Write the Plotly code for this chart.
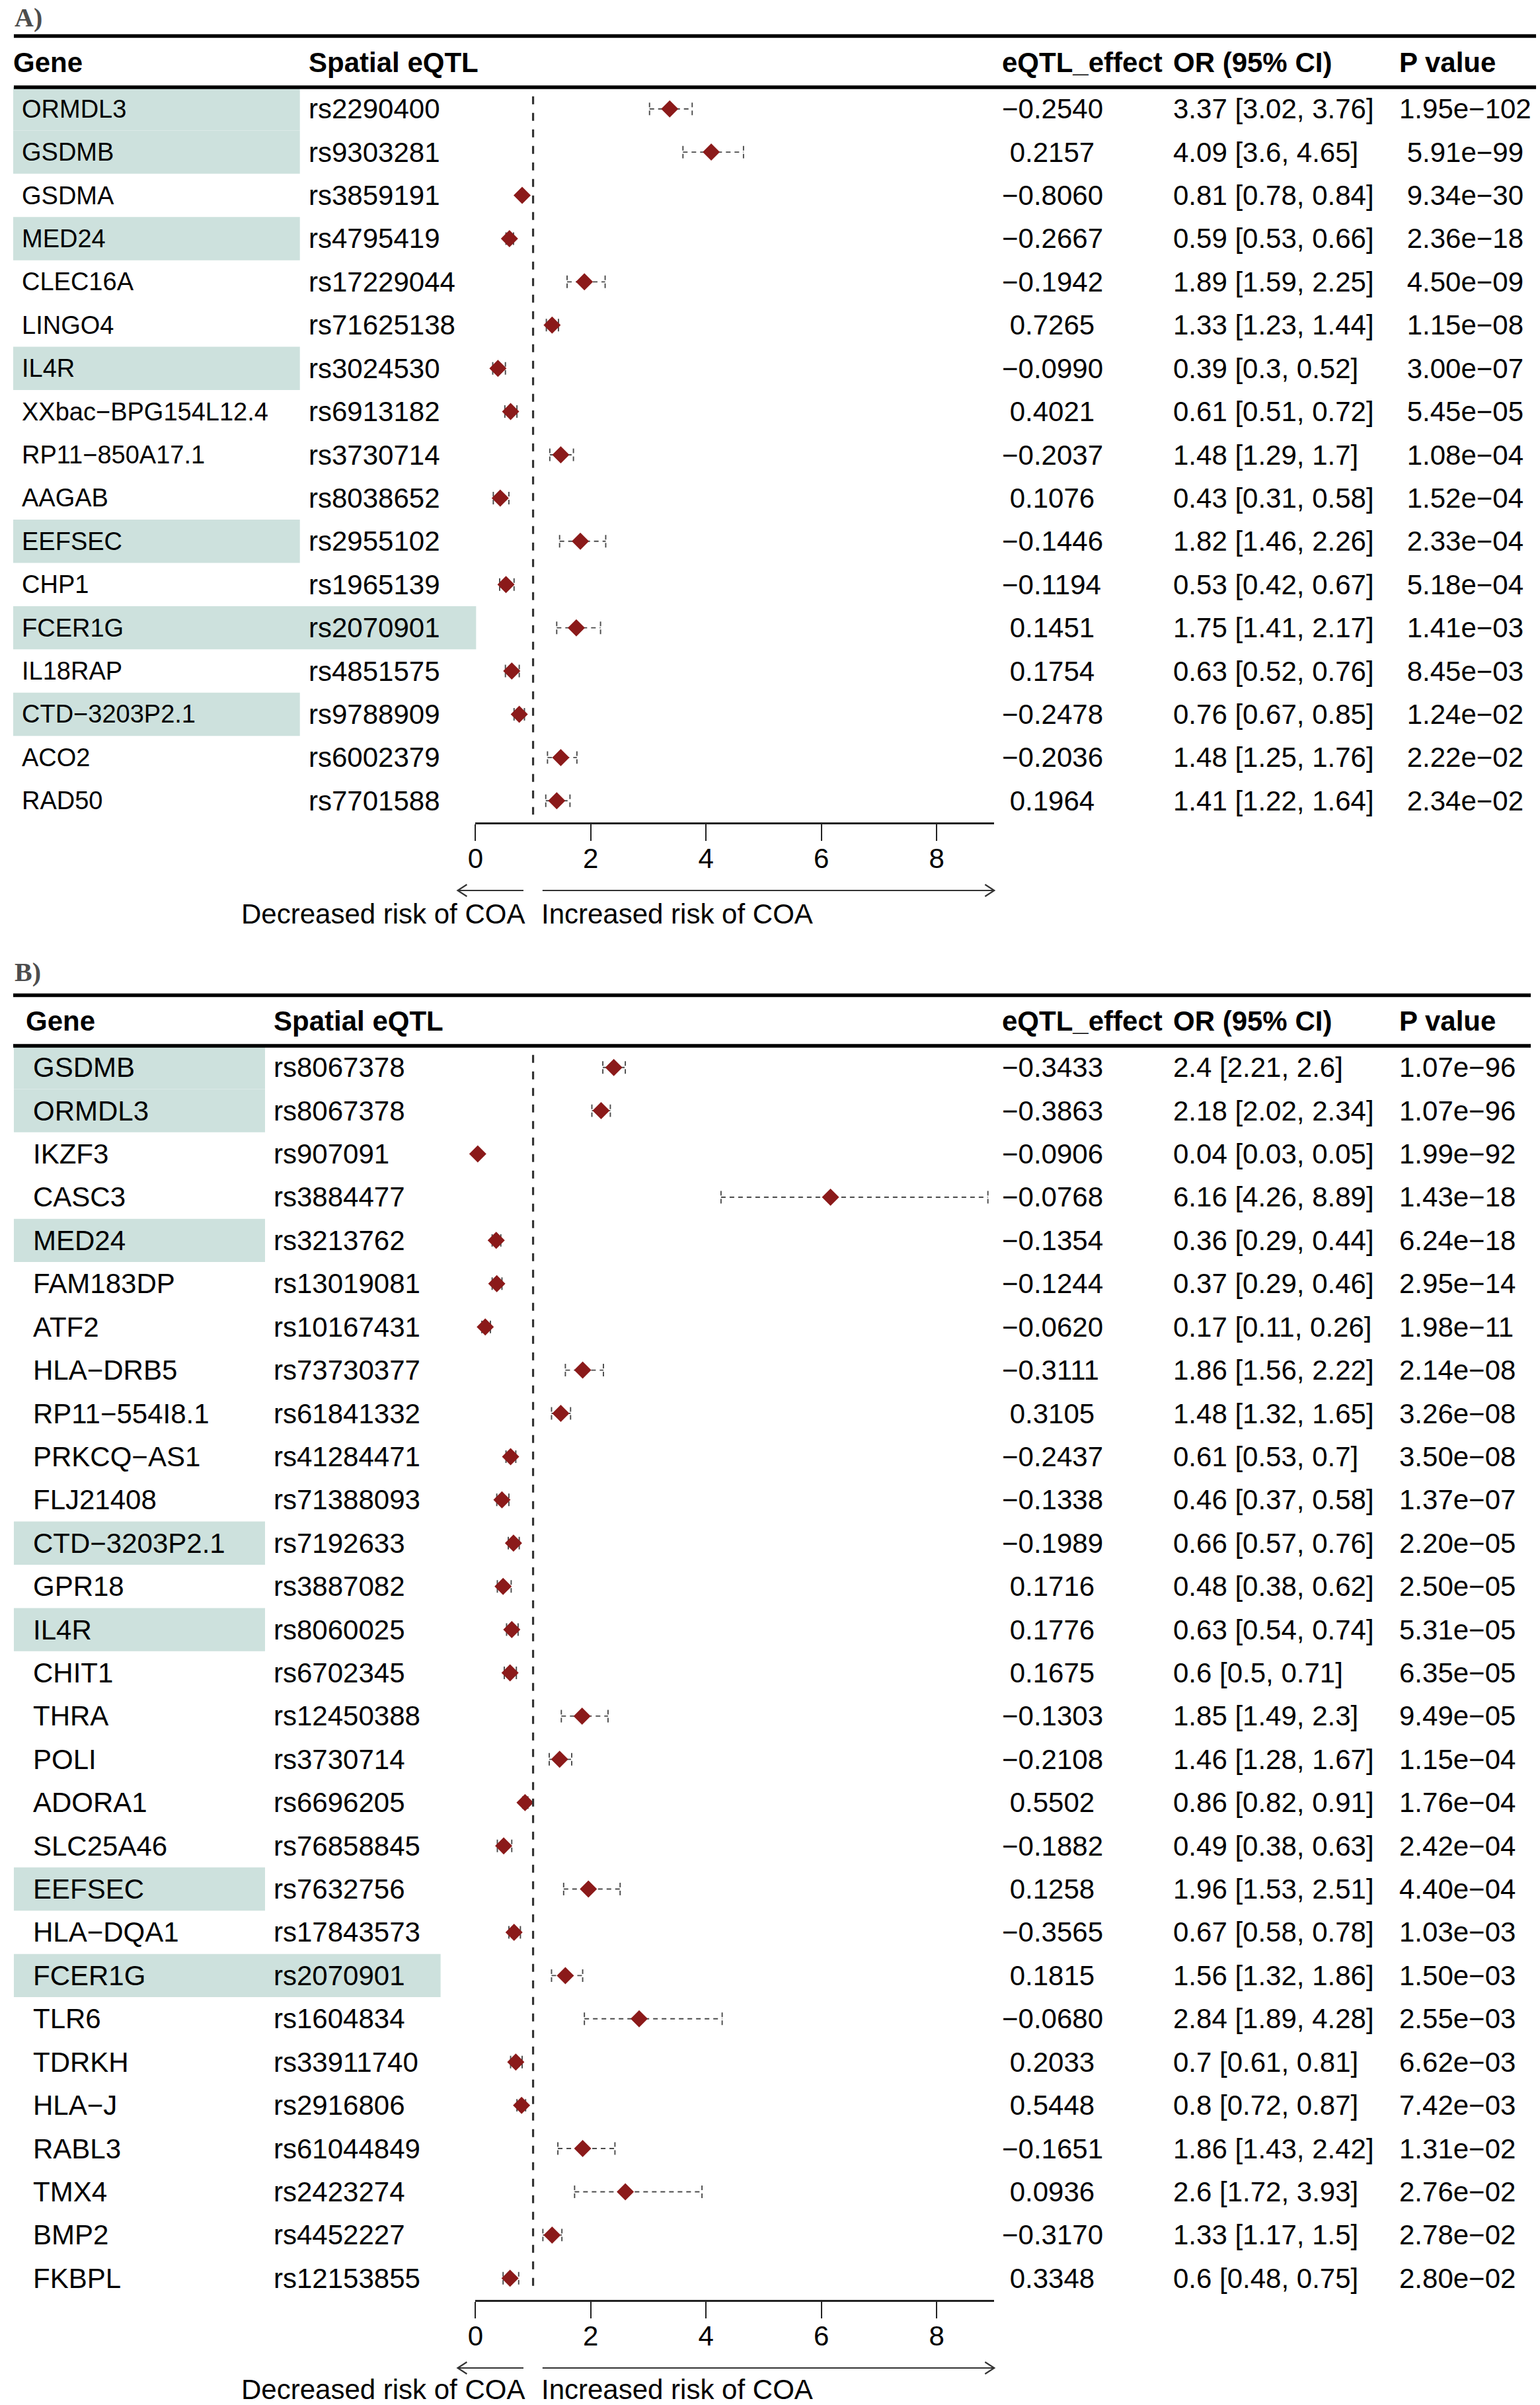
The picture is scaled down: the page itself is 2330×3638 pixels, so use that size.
import plotly.graph_objects as go

W, H = 2330, 3638
FONT = "Liberation Sans, Arial, Helvetica, sans-serif"
SERIF = "Liberation Serif, Times New Roman, serif"
MINUS = "\u2212"
NBSP = "\u00a0"

# ---------------- Panel A data ----------------
a_gene = ["ORMDL3", "GSDMB", "GSDMA", "MED24", "CLEC16A", "LINGO4", "IL4R",
          "XXbac−BPG154L12.4", "RP11−850A17.1", "AAGAB", "EEFSEC", "CHP1",
          "FCER1G", "IL18RAP", "CTD−3203P2.1", "ACO2", "RAD50"]
a_snp = ["rs2290400", "rs9303281", "rs3859191", "rs4795419", "rs17229044", "rs71625138",
         "rs3024530", "rs6913182", "rs3730714", "rs8038652", "rs2955102", "rs1965139",
         "rs2070901", "rs4851575", "rs9788909", "rs6002379", "rs7701588"]
a_effect = [-0.2540, 0.2157, -0.8060, -0.2667, -0.1942, 0.7265, -0.0990, 0.4021, -0.2037,
            0.1076, -0.1446, -0.1194, 0.1451, 0.1754, -0.2478, -0.2036, 0.1964]
a_or = [3.37, 4.09, 0.81, 0.59, 1.89, 1.33, 0.39, 0.61, 1.48, 0.43, 1.82, 0.53, 1.75, 0.63, 0.76, 1.48, 1.41]
a_lo = [3.02, 3.6, 0.78, 0.53, 1.59, 1.23, 0.3, 0.51, 1.29, 0.31, 1.46, 0.42, 1.41, 0.52, 0.67, 1.25, 1.22]
a_hi = [3.76, 4.65, 0.84, 0.66, 2.25, 1.44, 0.52, 0.72, 1.7, 0.58, 2.26, 0.67, 2.17, 0.76, 0.85, 1.76, 1.64]
a_p = [1.95e-102, 5.91e-99, 9.34e-30, 2.36e-18, 4.50e-09, 1.15e-08, 3.00e-07, 5.45e-05, 1.08e-04,
       1.52e-04, 2.33e-04, 5.18e-04, 1.41e-03, 8.45e-03, 1.24e-02, 2.22e-02, 2.34e-02]
a_highlight = ["ORMDL3", "GSDMB", "MED24", "IL4R", "EEFSEC", "CTD−3203P2.1"]
a_highlight_wide = ["FCER1G"]

# ---------------- Panel B data ----------------
b_gene = ["GSDMB", "ORMDL3", "IKZF3", "CASC3", "MED24", "FAM183DP", "ATF2", "HLA−DRB5",
          "RP11−554I8.1", "PRKCQ−AS1", "FLJ21408", "CTD−3203P2.1", "GPR18", "IL4R", "CHIT1",
          "THRA", "POLI", "ADORA1", "SLC25A46", "EEFSEC", "HLA−DQA1", "FCER1G", "TLR6",
          "TDRKH", "HLA−J", "RABL3", "TMX4", "BMP2", "FKBPL"]
b_snp = ["rs8067378", "rs8067378", "rs907091", "rs3884477", "rs3213762", "rs13019081",
         "rs10167431", "rs73730377", "rs61841332", "rs41284471", "rs71388093", "rs7192633",
         "rs3887082", "rs8060025", "rs6702345", "rs12450388", "rs3730714", "rs6696205",
         "rs76858845", "rs7632756", "rs17843573", "rs2070901", "rs1604834", "rs33911740",
         "rs2916806", "rs61044849", "rs2423274", "rs4452227", "rs12153855"]
b_effect = [-0.3433, -0.3863, -0.0906, -0.0768, -0.1354, -0.1244, -0.0620, -0.3111, 0.3105,
            -0.2437, -0.1338, -0.1989, 0.1716, 0.1776, 0.1675, -0.1303, -0.2108, 0.5502,
            -0.1882, 0.1258, -0.3565, 0.1815, -0.0680, 0.2033, 0.5448, -0.1651, 0.0936,
            -0.3170, 0.3348]
b_or = [2.4, 2.18, 0.04, 6.16, 0.36, 0.37, 0.17, 1.86, 1.48, 0.61, 0.46, 0.66, 0.48, 0.63, 0.6,
        1.85, 1.46, 0.86, 0.49, 1.96, 0.67, 1.56, 2.84, 0.7, 0.8, 1.86, 2.6, 1.33, 0.6]
b_lo = [2.21, 2.02, 0.03, 4.26, 0.29, 0.29, 0.11, 1.56, 1.32, 0.53, 0.37, 0.57, 0.38, 0.54, 0.5,
        1.49, 1.28, 0.82, 0.38, 1.53, 0.58, 1.32, 1.89, 0.61, 0.72, 1.43, 1.72, 1.17, 0.48]
b_hi = [2.6, 2.34, 0.05, 8.89, 0.44, 0.46, 0.26, 2.22, 1.65, 0.7, 0.58, 0.76, 0.62, 0.74, 0.71,
        2.3, 1.67, 0.91, 0.63, 2.51, 0.78, 1.86, 4.28, 0.81, 0.87, 2.42, 3.93, 1.5, 0.75]
b_p = [1.07e-96, 1.07e-96, 1.99e-92, 1.43e-18, 6.24e-18, 2.95e-14, 1.98e-11, 2.14e-08, 3.26e-08,
       3.50e-08, 1.37e-07, 2.20e-05, 2.50e-05, 5.31e-05, 6.35e-05, 9.49e-05, 1.15e-04, 1.76e-04,
       2.42e-04, 4.40e-04, 1.03e-03, 1.50e-03, 2.55e-03, 6.62e-03, 7.42e-03, 1.31e-02, 2.76e-02,
       2.78e-02, 2.80e-02]
b_highlight = ["GSDMB", "ORMDL3", "MED24", "CTD−3203P2.1", "IL4R", "EEFSEC"]
b_highlight_wide = ["FCER1G"]

headers = ["Gene", "Spatial eQTL", "eQTL_effect", "OR (95% CI)", "P value"]
x_ticks = [0, 2, 4, 6, 8]
x_range = [0, 9]
ref_value = 1
left_label = "Decreased risk of COA"
right_label = "Increased risk of COA"

# ---------------- styling / layout (pixels) ----------------
HL_COLOR = "#CDE1DD"
MARK_COLOR = "#8B1A1A"
CI_COLOR = "#4a4a4a"
FS = 42
PLOT_X0, PLOT_X1 = 711, 1500
EFF_X, OR_X, P_X = 1513, 1773, 2117


def fx(p):
    return p / W


def fy(p):
    return 1 - p / H


def fmt_num(v):
    return f"{v:g}"


def fmt_eff(v):
    s = f"{v:.4f}".replace("-", MINUS)
    return s.rjust(7, NBSP)


def fmt_p(vals):
    strs = [f"{v:.2e}".replace("-", MINUS) for v in vals]
    w = max(len(s) for s in strs)
    return [s.rjust(w, NBSP) for s in strs]


panels = [
    dict(label="A)", gene=a_gene, snp=a_snp, eff=a_effect, orv=a_or, lo=a_lo, hi=a_hi, p=a_p,
         hl=a_highlight, hlw=a_highlight_wide, xa="x", ya="y", xkey="xaxis", ykey="yaxis",
         label_y=27, top=54.5, head=94, head2=132, bottom=1244, line_x0=9, line_x1=2324,
         gene_x=22, gene_fs=38, head_gene_x=9, snp_x=458, hl_x0=8, hl_x1=444, hlw_x1=712,
         text_dy=138),
    dict(label="B)", gene=b_gene, snp=b_snp, eff=b_effect, orv=b_or, lo=b_lo, hi=b_hi, p=b_p,
         hl=b_highlight, hlw=b_highlight_wide, xa="x2", ya="y2", xkey="xaxis2", ykey="yaxis2",
         label_y=1470, top=1505.5, head=1545, head2=1582, bottom=3479, line_x0=8, line_x1=2316,
         gene_x=39, gene_fs=42, head_gene_x=28, snp_x=405, hl_x0=9, hl_x1=391, hlw_x1=658,
         text_dy=135),
]

fig = go.Figure()
annotations = []
shapes = []
layout_axes = {}

for P in panels:
    n = len(P["gene"])
    idx = list(range(n))
    xa, ya = P["xa"], P["ya"]

    layout_axes[P["ykey"]] = dict(domain=[fy(P["bottom"]), fy(P["head2"])], range=[n - 0.5, -0.5],
                                  visible=False, fixedrange=True, anchor=xa)
    layout_axes[P["xkey"]] = dict(domain=[fx(PLOT_X0), fx(PLOT_X1)], range=x_range, anchor=ya,
                                  tickvals=x_ticks, ticktext=[str(t) for t in x_ticks],
                                  showline=True, linecolor="#222222", linewidth=2.5,
                                  ticks="outside", ticklen=25, tickwidth=1.6, tickcolor="#222222",
                                  ticklabelstandoff=-9,
                                  tickfont=dict(family=FONT, size=FS, color="black"),
                                  showgrid=False, zeroline=False, fixedrange=True)

    # highlights
    for i, g in enumerate(P["gene"]):
        if g in P["hl"] or g in P["hlw"]:
            x1 = P["hlw_x1"] if g in P["hlw"] else P["hl_x1"]
            shapes.append(dict(type="rect", xref="paper", yref=ya, x0=fx(P["hl_x0"]), x1=fx(x1),
                               y0=i - 0.5, y1=i + 0.5, fillcolor=HL_COLOR, line=dict(width=0),
                               layer="below"))

    # thick rules
    for yy in (P["top"], P["head2"]):
        shapes.append(dict(type="line", xref="paper", yref="paper", x0=fx(P["line_x0"]),
                           x1=fx(P["line_x1"]), y0=fy(yy), y1=fy(yy),
                           line=dict(color="black", width=5.5)))

    # reference line
    shapes.append(dict(type="line", xref=xa, yref=ya, x0=ref_value, x1=ref_value,
                       y0=-0.29, y1=n - 1 + 0.32,
                       line=dict(color="#333333", width=3.2, dash="12px,13px")))

    # CI lines
    cx, cy = [], []
    for i in idx:
        cx += [P["lo"][i], P["hi"][i], None]
        cy += [i, i, None]
    fig.add_trace(go.Scatter(x=cx, y=cy, xaxis=xa, yaxis=ya, mode="lines", cliponaxis=False,
                             line=dict(color=CI_COLOR, width=1.9, dash="7px,6px"),
                             hoverinfo="skip", showlegend=False))
    # caps
    kx, ky = [], []
    for i in idx:
        for v in (P["lo"][i], P["hi"][i]):
            kx += [v, v, None]
            ky += [i - 0.145, i + 0.145, None]
    fig.add_trace(go.Scatter(x=kx, y=ky, xaxis=xa, yaxis=ya, mode="lines", cliponaxis=False,
                             line=dict(color=CI_COLOR, width=1.9, dash="7px,5px"),
                             hoverinfo="skip", showlegend=False))
    # point estimates
    fig.add_trace(go.Scatter(x=P["orv"], y=idx, xaxis=xa, yaxis=ya, mode="markers",
                             cliponaxis=False,
                             marker=dict(symbol="diamond", size=20, color=MARK_COLOR,
                                         line=dict(width=0)),
                             hoverinfo="skip", showlegend=False))

    # panel label
    annotations.append(dict(text="<b>" + P["label"] + "</b>", xref="paper", yref="paper",
                            x=fx(8), y=fy(P["label_y"]), xanchor="left", yanchor="middle",
                            showarrow=False, font=dict(family=SERIF, size=40, color="#4d4d4d")))

    # headers
    hx = [P["head_gene_x"], P["snp_x"], EFF_X, OR_X, P_X]
    for h, x in zip(headers, hx):
        annotations.append(dict(text="<b>" + h + "</b>", xref="paper", yref="paper",
                                x=fx(x - 3), y=fy(P["head"]), xanchor="left", yanchor="middle",
                                showarrow=False, font=dict(family=FONT, size=FS, color="black")))

    # cells
    pstr = fmt_p(P["p"])
    for i in idx:
        cells = [
            (P["gene_x"], P["gene"][i], P["gene_fs"]),
            (P["snp_x"], P["snp"][i], FS),
            (EFF_X, fmt_eff(P["eff"][i]), FS),
            (OR_X, f"{fmt_num(P['orv'][i])} [{fmt_num(P['lo'][i])}, {fmt_num(P['hi'][i])}]", FS),
            (P_X, pstr[i], FS),
        ]
        for x, t, fs in cells:
            annotations.append(dict(text=t, xref="paper", yref=ya, x=fx(x - 3), y=i,
                                    xanchor="left", yanchor="middle", showarrow=False,
                                    font=dict(family=FONT, size=fs, color="black")))

    # direction arrows
    ay = P["bottom"] + 103
    la0, la1 = 784, 684
    ra0, ra1 = 813, 1500
    shapes.append(dict(type="line", xref="paper", yref="paper", x0=fx(la0), x1=fx(la1),
                       y0=fy(ay), y1=fy(ay), line=dict(color="#333333", width=2.2)))
    shapes.append(dict(type="line", xref="paper", yref="paper", x0=fx(ra0), x1=fx(ra1),
                       y0=fy(ay), y1=fy(ay), line=dict(color="#333333", width=2.2)))
    shapes.append(dict(type="path", xref="paper", yref="paper",
                       path=f"M {fx(la1 + 14)},{fy(ay - 9)} L {fx(la1)},{fy(ay)} L {fx(la1 + 14)},{fy(ay + 9)}",
                       line=dict(color="#333333", width=2.2)))
    shapes.append(dict(type="path", xref="paper", yref="paper",
                       path=f"M {fx(ra1 - 14)},{fy(ay - 9)} L {fx(ra1)},{fy(ay)} L {fx(ra1 - 14)},{fy(ay + 9)}",
                       line=dict(color="#333333", width=2.2)))
    ty = P["bottom"] + P["text_dy"]
    annotations.append(dict(text=left_label, xref="paper", yref="paper", x=fx(la0 + 3), y=fy(ty),
                            xanchor="right", yanchor="middle", showarrow=False, borderpad=0,
                            font=dict(family=FONT, size=FS, color="black")))
    annotations.append(dict(text=right_label, xref="paper", yref="paper", x=fx(ra0 - 3), y=fy(ty),
                            xanchor="left", yanchor="middle", showarrow=False, borderpad=0,
                            font=dict(family=FONT, size=FS, color="black")))

fig.update_layout(width=W, height=H, margin=dict(l=0, r=0, t=0, b=0),
                  paper_bgcolor="white", plot_bgcolor="white", showlegend=False,
                  hovermode=False, annotations=annotations, shapes=shapes,
                  font=dict(family=FONT, size=FS, color="black"), **layout_axes)

fig.write_html("out.html", config={"displayModeBar": False, "responsive": False},
               post_script="document.body.style.margin='0px';document.body.style.padding='0px';")
